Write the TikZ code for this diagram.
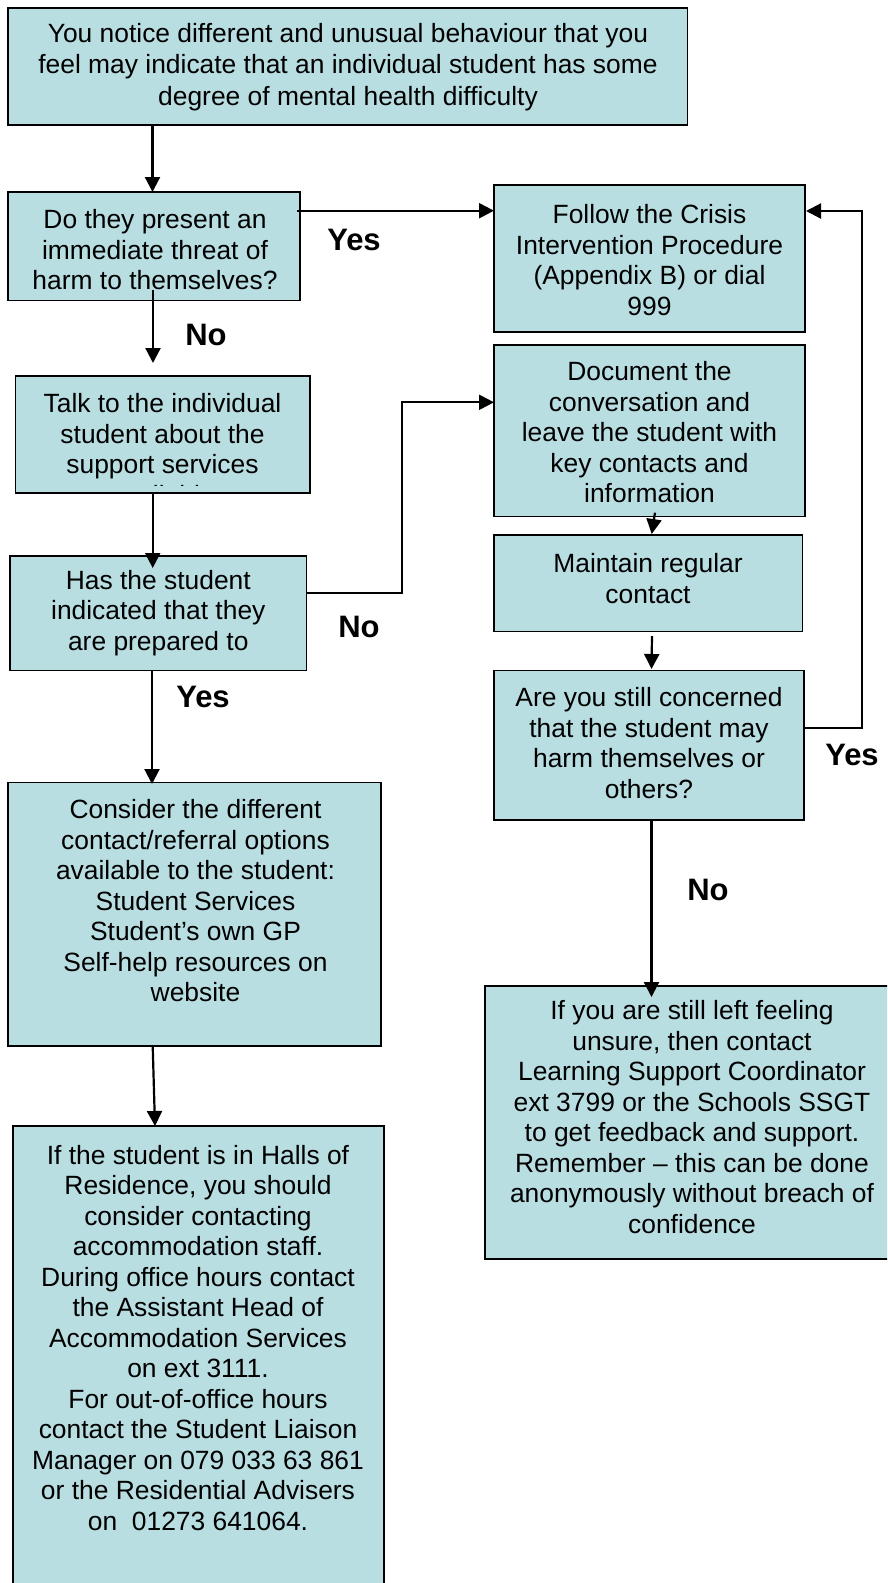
\documentclass[tikz,border=0pt]{standalone}
\usepackage{fontspec}
\setmainfont{Liberation Sans}
\usetikzlibrary{calc,arrows.meta}
\definecolor{boxfill}{RGB}{184,222,226}
\tikzset{
  flowbox/.style={draw=black, fill=boxfill, line width=1.5pt, inner sep=0pt, outer sep=0pt, anchor=north west, rectangle},
  txt/.style={align=center, font=\fontsize{26.4}{30.5}\selectfont, inner sep=0pt},
  lbl/.style={font=\fontsize{31}{31}\selectfont\bfseries, inner sep=0pt},
  arr/.style={line width=2.2pt, -{Triangle[width=15pt,length=15pt]}},
}
\begin{document}
\begin{tikzpicture}[x=1pt,y=-1pt]
\useasboundingbox (0,0) rectangle (887,1583);
\clip (0,0) rectangle (887,1583);
\fill[white] (0,0) rectangle (887,1583);

% boxes
\node[flowbox, minimum width=679.5pt, minimum height=117pt] (top) at (8,8) {};
\node[flowbox, minimum width=292pt, minimum height=108.7pt] (do) at (8,192) {};
\node[flowbox, minimum width=311pt, minimum height=147pt] (follow) at (494,185) {};
\node[flowbox, minimum width=294.3pt, minimum height=117pt] (talk) at (15.7,376) {};
\node[flowbox, minimum width=311pt, minimum height=171.7pt] (doc) at (494,345) {};
\node[flowbox, minimum width=296.7pt, minimum height=114.7pt] (has) at (10,556) {};
\node[flowbox, minimum width=308.7pt, minimum height=96.7pt] (maint) at (494,535) {};
\node[flowbox, minimum width=310pt, minimum height=149.3pt] (are) at (494,670.7) {};
\node[flowbox, minimum width=373pt, minimum height=263.5pt] (cons) at (8,782.5) {};
\node[flowbox, minimum width=371pt, minimum height=480pt] (last) at (13,1126) {};
\node[flowbox, minimum width=414pt, minimum height=273pt] (right) at (485,986) {};

% texts
\node[txt, font=\fontsize{26.4}{31.8}\selectfont] (topT) at (348,67) {You notice different and unusual behaviour that you\\feel may indicate that an individual student has some\\degree of mental health difficulty};
\node[txt] (doT) at (155,250) {Do they present an\\immediate threat of\\harm to themselves?};
\node[txt] (followT) at (649.5,260) {Follow the Crisis\\Intervention Procedure\\(Appendix B) or dial\\999};
\begin{scope}
\clip (talk.north west) rectangle ($(talk.south east)+(0,-8)$);
\node[txt] (talkT) at (162.5,449) {Talk to the individual\\student about the\\support services\\available};
\end{scope}
\node[txt] (docT) at (649.5,432.5) {Document the\\conversation and\\leave the student with\\key contacts and\\information};
\node[txt] (hasT) at (158.3,613) {Has the student\\indicated that they\\are prepared to};
\node[txt] (maintT) at (648,578.5) {Maintain regular\\contact};
\node[txt] (areT) at (649,743) {Are you still concerned\\that the student may\\harm themselves or\\others?};
\node[txt] (consT) at (195.5,901) {Consider the different\\contact/referral options\\available to the student:\\Student Services\\Student’s own GP\\Self-help resources on\\website};
\node[txt] (lastT) at (198,1338) {If the student is in Halls of\\Residence, you should\\consider contacting\\accommodation staff.\\During office hours contact\\the Assistant Head of\\Accommodation Services\\on ext 3111.\\For out-of-office hours\\contact the Student Liaison\\Manager on 079 033 63 861\\or the Residential Advisers\\on\ \ 01273 641064.};
\node[txt] (rightT) at (692,1117) {If you are still left feeling\\unsure, then contact\\Learning Support Coordinator\\ext 3799 or the Schools SSGT\\to get feedback and support.\\Remember – this can be done\\anonymously without breach of\\confidence};

% labels
\node[lbl] (yes1) at (354,240) {Yes};
\node[lbl] (no1) at (206,335) {No};
\node[lbl] (no2) at (359,627) {No};
\node[lbl] (yes2) at (203,697) {Yes};
\node[lbl] (yes3) at (852,755) {Yes};
\node[lbl] (no3) at (708,890) {No};

% connectors
\draw[arr] ($(top.south west)+(144.5,0)$) -- ($(do.north west)+(144.5,0)$);
\draw[arr] ($(do.north east)+(-3,18.7)$) -- ($(follow.north west)+(0,25.7)$);
\draw[arr] ($(do.south west)+(145,-10.7)$) -- ($(talk.north west)+(137.3,-13)$);
\draw[arr] ($(talk.south west)+(137,0)$) -- ($(has.north west)+(142.7,12)$);
\draw[arr] ($(has.north east)+(0,37)$) -- ($(has.north east)+(95,37)$) |- ($(doc.north west)+(0,57.3)$);
\draw[arr] ($(doc.south west)+(161,-4)$) -- ($(maint.north west)+(157.7,-1)$);
\draw[arr] ($(maint.south west)+(158,4.3)$) -- ($(are.north west)+(157.5,-1.7)$);
\draw[arr] ($(are.north east)+(0,57)$) -- ($(are.north east)+(58,57)$) |- ($(follow.north east)+(1,26)$);
\draw[arr] ($(are.south west)+(157.5,0)$) -- ($(right.north west)+(166.5,11)$);
\draw[arr] ($(has.south west)+(142,0)$) -- ($(cons.north west)+(144,1.5)$);
\draw[arr] ($(cons.south west)+(144.7,0)$) -- ($(last.north west)+(142,0)$);
\end{tikzpicture}
\end{document}
